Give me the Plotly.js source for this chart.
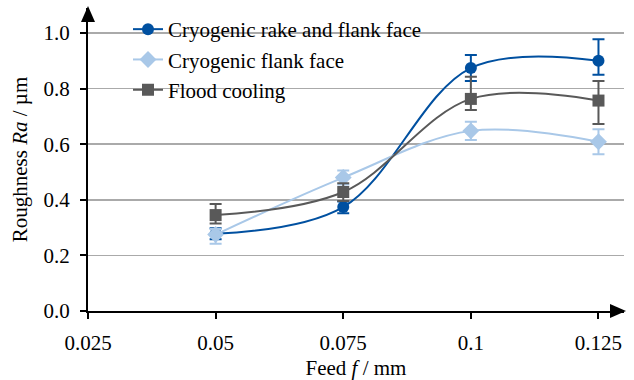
<!DOCTYPE html>
<html>
<head>
<meta charset="utf-8">
<script src="https://cdn.plot.ly/plotly-3.0.1.min.js"></script>
<style>html,body{margin:0;padding:0;background:#fff;}#chart{width:634px;height:380px;}</style>
</head>
<body>
<div id="chart"></div>
<script>
const feed = [0.05, 0.075, 0.1, 0.125];
const xTicks = [0.025, 0.05, 0.075, 0.1, 0.125];
const xTickText = ["0.025", "0.05", "0.075", "0.1", "0.125"];
const yTicks = [0, 0.2, 0.4, 0.6, 0.8, 1.0];

const seriesNames = ["Cryogenic rake and flank face", "Cryogenic flank face", "Flood cooling"];
const cryoRakeFlank = [0.278, 0.374, 0.874, 0.90];
const cryoRakeFlankErrPlus = [0.02, 0.02, 0.047, 0.078];
const cryoRakeFlankErrMinus = [0.02, 0.022, 0.047, 0.05];
const cryoFlank = [0.275, 0.48, 0.648, 0.609];
const cryoFlankErrPlus = [0.02, 0.025, 0.033, 0.045];
const cryoFlankErrMinus = [0.033, 0.025, 0.033, 0.045];
const flood = [0.345, 0.428, 0.763, 0.757];
const floodErrPlus = [0.04, 0.032, 0.08, 0.07];
const floodErrMinus = [0.03, 0.032, 0.04, 0.084];

const colors = ["#0050a0", "#a9c8e8", "#595959"];
const symbols = ["circle", "diamond", "square"];

function mk(i, y, ep, em) {
  return {
    x: feed, y: y, name: seriesNames[i], type: "scatter", mode: "lines+markers",
    line: {color: colors[i], width: 2, shape: "spline", smoothing: 1},
    marker: {color: colors[i], symbol: symbols[i], size: i === 1 ? 13 : 12},
    error_y: {type: "data", symmetric: false, array: ep, arrayminus: em,
              color: colors[i], thickness: 2, width: 6}
  };
}
const data = [
  mk(0, cryoRakeFlank, cryoRakeFlankErrPlus, cryoRakeFlankErrMinus),
  mk(1, cryoFlank, cryoFlankErrPlus, cryoFlankErrMinus),
  mk(2, flood, floodErrPlus, floodErrMinus)
];

const W = 634, H = 380, L = 88, R = 10, T = 8, B = 69;
const pw = W - L - R, ph = H - T - B;
const fx = px => (px - L) / pw;
const fy = py => (H - B - py) / ph;

const FAM = "Liberation Serif";
const f = () => ({family: FAM, size: 21, color: "#000000"});

const layout = {
  width: W, height: H,
  margin: {l: L, r: R, t: T, b: B, pad: 0},
  paper_bgcolor: "#fff", plot_bgcolor: "#fff",
  font: f(),
  showlegend: true,
  legend: {x: fx(128), y: fy(9), xanchor: "left", yanchor: "top",
           bgcolor: "rgba(0,0,0,0)", font: f(), tracegroupgap: 0},
  xaxis: {
    range: [0.025, 0.13], tickvals: xTicks, ticktext: xTickText,
    showgrid: false, zeroline: false, showline: true, linecolor: "#000", linewidth: 2,
    ticks: "outside", ticklen: 6, tickwidth: 2, tickcolor: "#000",
    ticklabelstandoff: 6, tickfont: f(),
    title: {text: "Feed <i>f</i> / mm", font: f(), standoff: 6}
  },
  yaxis: {
    range: [0, 1.09], tickvals: yTicks, tickformat: ".1f",
    showgrid: true, gridcolor: "#aaaaaa", gridwidth: 1.5,
    zeroline: false, showline: true, linecolor: "#000", linewidth: 2,
    ticks: "outside", ticklen: 6, tickwidth: 2, tickcolor: "#000",
    ticklabelstandoff: 6, tickfont: f(),
    title: {text: "Roughness <i>Ra</i> / µm", font: f(), standoff: 10}
  },
  shapes: [
    {type: "rect", xref: "paper", yref: "paper", layer: "between",
     x0: fx(112), x1: fx(452), y0: fy(40), y1: fy(26), fillcolor: "#fff", line: {width: 0}},
    {type: "rect", xref: "paper", yref: "paper", layer: "between",
     x0: fx(112), x1: fx(310), y0: fy(95), y1: fy(81), fillcolor: "#fff", line: {width: 0}},
    {type: "path", xref: "paper", yref: "paper", fillcolor: "#000", line: {width: 0},
     path: `M ${fx(626)} ${fy(311)} L ${fx(610)} ${fy(304)} L ${fx(610)} ${fy(318)} Z`},
    {type: "path", xref: "paper", yref: "paper", fillcolor: "#000", line: {width: 0},
     path: `M ${fx(88)} ${fy(6)} L ${fx(81)} ${fy(22)} L ${fx(95)} ${fy(22)} Z`}
  ]
};

Plotly.newPlot("chart", data, layout, {displayModeBar: false, staticPlot: true});
</script>
</body>
</html>
